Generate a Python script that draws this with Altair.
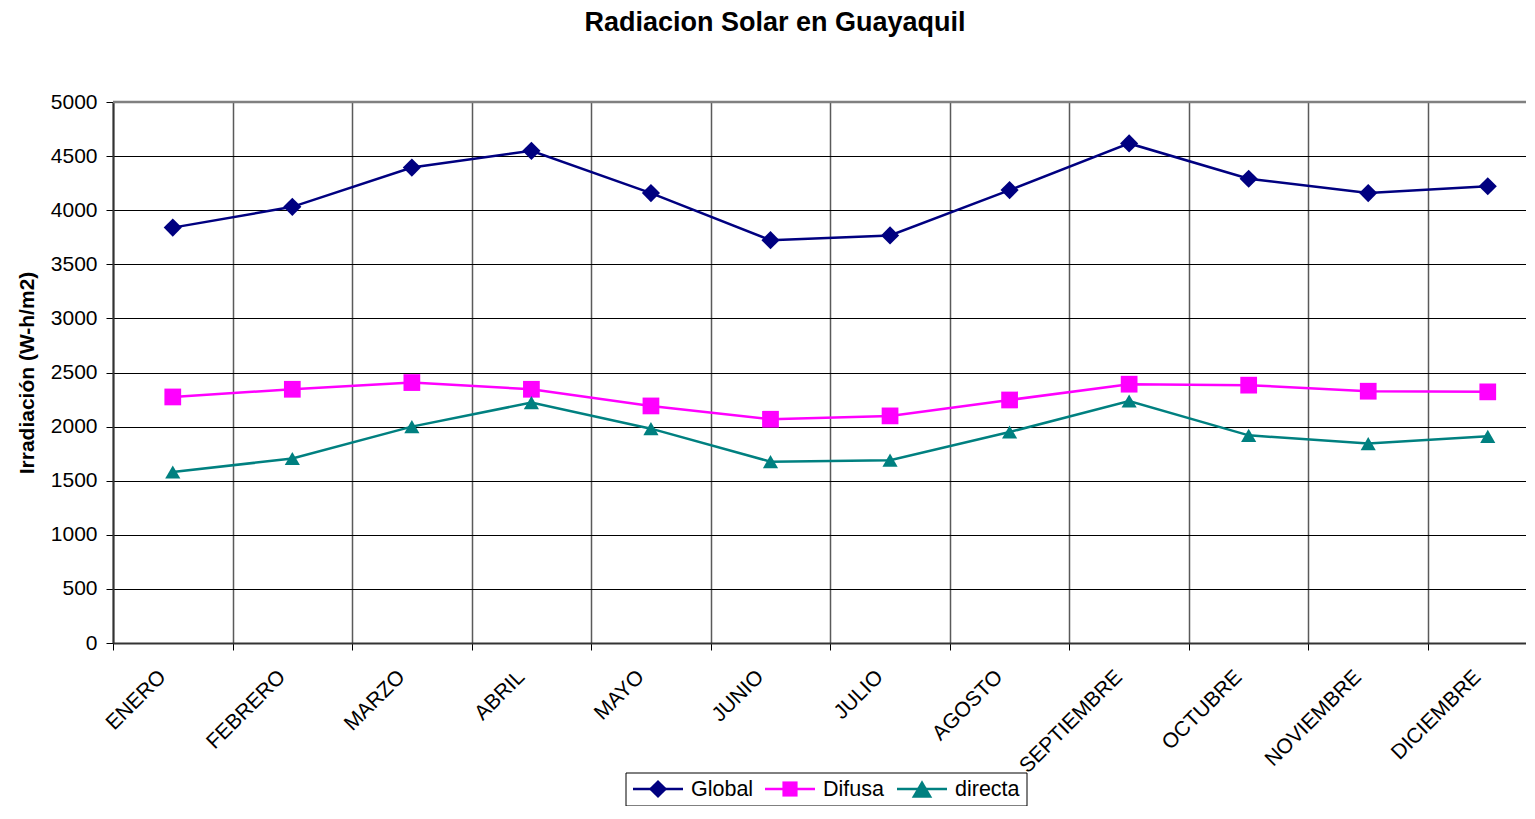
import altair as alt
import pandas as pd

TITLE = "Radiacion Solar en Guayaquil"
Y_TITLE = "Irradiación (W-h/m2)"
months = ["ENERO", "FEBRERO", "MARZO", "ABRIL", "MAYO", "JUNIO", "JULIO",
          "AGOSTO", "SEPTIEMBRE", "OCTUBRE", "NOVIEMBRE", "DICIEMBRE"]
series_names = ["Global", "Difusa", "directa"]
global_vals = [3839, 4031, 4394, 4549, 4158, 3723, 3767, 4186, 4617, 4291, 4158, 4221]
difusa_vals = [2274, 2345, 2407, 2345, 2191, 2068, 2099, 2246, 2392, 2383, 2327, 2321]
directa_vals = [1580, 1705, 2000, 2222, 1981, 1676, 1690, 1950, 2237, 1919, 1843, 1910]
y_ticks = list(range(0, 5001, 500))

colors = ["#000080", "#FF00FF", "#008080"]
shapes = ["diamond", "square", "triangle-up"]
sizes = [330, 230, 420]

rows = []
for name, vals in zip(series_names, [global_vals, difusa_vals, directa_vals]):
    for i, (m, v) in enumerate(zip(months, vals)):
        rows.append({"idx": i, "month": m, "series": name, "value": v})
df = pd.DataFrame(rows)
mdf = pd.DataFrame({"idx": list(range(len(months))), "month": months})

W = 1413
H = 541
CAT = 119.545
xmax = -0.5 + W / CAT
FONT = "Liberation Sans"

X = alt.X("idx:Q",
          scale=alt.Scale(domain=[-0.5, xmax], nice=False, zero=False),
          axis=alt.Axis(values=[i - 0.5 for i in range(12)], labels=False, title=None,
                        grid=True, gridColor="#5a5a5a", gridWidth=1.5,
                        tickSize=7, tickColor="black", domainColor="#333333",
                        domainWidth=2))
Y = alt.Y("value:Q",
          scale=alt.Scale(domain=[0, 5000], nice=False),
          axis=alt.Axis(values=y_ticks, format="d", title=Y_TITLE, titleFontSize=21,
                        titleFontWeight="bold", titleX=-86, titleY=H / 2,
                        titleAngle=270, titleAlign="center", titleBaseline="middle",
                        labelFontSize=21, labelPadding=9, tickSize=7, tickColor="black",
                        grid=True, gridColor="black", gridWidth=1, domainColor="#333333",
                        domainWidth=2))
color = alt.Color("series:N", scale=alt.Scale(domain=series_names, range=colors), legend=None)
shape = alt.Shape("series:N", scale=alt.Scale(domain=series_names, range=shapes), legend=None)
size = alt.Size("series:N", scale=alt.Scale(domain=series_names, range=sizes), legend=None)

lines = alt.Chart(df).mark_line(strokeWidth=2.5).encode(x=X, y=Y, color=color, detail="series:N")
points = alt.Chart(df).mark_point(filled=True, opacity=1).encode(
    x=X, y=Y, color=color, shape=shape, size=size)

top_border = alt.Chart(pd.DataFrame({"value": [5000]})).mark_rule(
    color="#808080", strokeWidth=2.5).encode(y=Y)

xlabels = alt.Chart(mdf).mark_text(angle=315, align="right", baseline="middle",
                                   fontSize=21, color="black", font=FONT).encode(
    x=X, y=alt.value(572), xOffset=alt.value(-10), text="month:N")

title = alt.Chart(pd.DataFrame({"t": [TITLE]})).mark_text(
    fontSize=27, fontWeight="bold", align="center", baseline="middle",
    color="black", font=FONT).encode(text="t:N", x=alt.value(775 - 113), y=alt.value(23 - 102))

one = pd.DataFrame({"a": [0]})
ly = 687
legend_layers = [
    alt.Chart(one).mark_rect(fill="white", stroke="black", strokeWidth=1).encode(
        x=alt.value(513), x2=alt.value(914), y=alt.value(ly - 16), y2=alt.value(ly + 17))
]
lx = [633 - 113, 765 - 113, 897 - 113]
for k, name in enumerate(series_names):
    legend_layers.append(alt.Chart(one).mark_rule(color=colors[k], strokeWidth=2.5).encode(
        x=alt.value(lx[k]), x2=alt.value(lx[k] + 50), y=alt.value(ly)))
    legend_layers.append(alt.Chart(one).mark_point(filled=True, size=sizes[k], opacity=1,
                                                   color=colors[k], shape=shapes[k]).encode(
        x=alt.value(lx[k] + 25), y=alt.value(ly)))
    legend_layers.append(alt.Chart(pd.DataFrame({"t": [name]})).mark_text(
        align="left", baseline="middle", fontSize=21.5, color="black", font=FONT).encode(
        x=alt.value(lx[k] + 58), y=alt.value(ly + 1), text="t:N"))

chart = alt.layer(lines, top_border, points, xlabels, title, *legend_layers).properties(
    width=W, height=H,
    padding={"left": 105, "top": 94, "right": 0, "bottom": 163},
    autosize=alt.AutoSizeParams(type="none"),
).configure(font=FONT).configure_view(stroke=None).configure_axis(
    labelColor="black", titleColor="black", labelFont=FONT, titleFont=FONT)

chart.save("out.html", embed_options={"renderer": "svg", "actions": False})
